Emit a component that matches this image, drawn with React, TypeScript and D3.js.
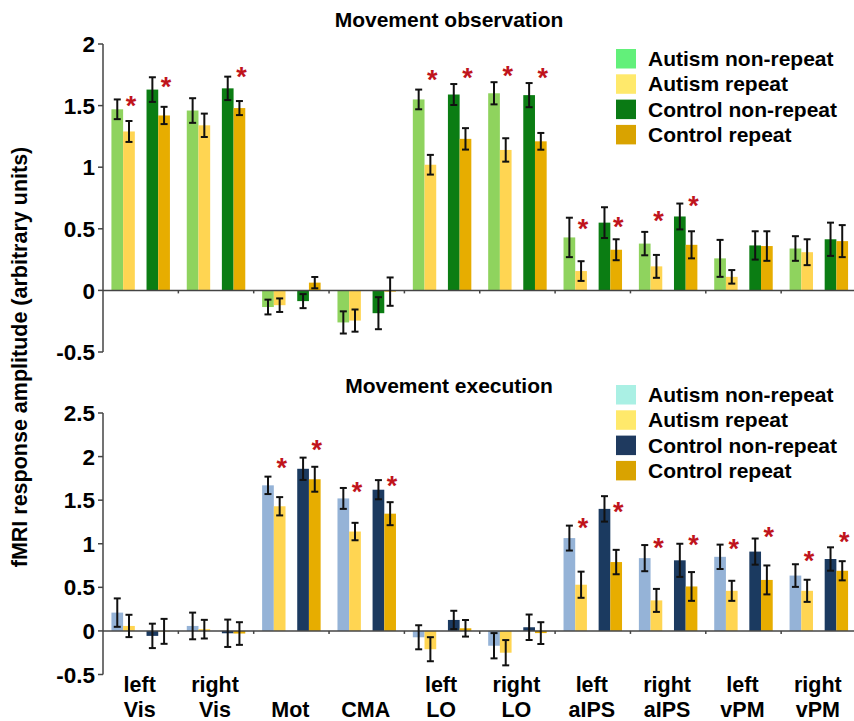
import React from 'react';
import * as d3 from 'd3';

// categories (two-line labels under the lower panel)
const categories = ['left Vis', 'right Vis', 'Mot', 'CMA', 'left LO', 'right LO', 'left aIPS', 'right aIPS', 'left vPM', 'right vPM'];
const labelTop = ['left', 'right', '', '', 'left', 'right', 'left', 'right', 'left', 'right'];
const labelBottom = ['Vis', 'Vis', 'Mot', 'CMA', 'LO', 'LO', 'aIPS', 'aIPS', 'vPM', 'vPM'];

const seriesNames = ['Autism non-repeat', 'Autism repeat', 'Control non-repeat', 'Control repeat'];

// Movement observation
const obsAutNon = [1.47, 1.46, -0.135, -0.26, 1.55, 1.6, 0.43, 0.38, 0.26, 0.34];
const obsAutNonErr = [0.08, 0.1, 0.06, 0.09, 0.08, 0.09, 0.16, 0.095, 0.15, 0.1];
const obsAutRep = [1.29, 1.34, -0.12, -0.245, 1.02, 1.14, 0.157, 0.195, 0.11, 0.31];
const obsAutRepErr = [0.085, 0.095, 0.055, 0.09, 0.08, 0.095, 0.08, 0.093, 0.055, 0.105];
const obsConNon = [1.63, 1.64, -0.087, -0.185, 1.59, 1.585, 0.55, 0.6, 0.365, 0.415];
const obsConNonErr = [0.1, 0.095, 0.057, 0.13, 0.085, 0.098, 0.125, 0.105, 0.115, 0.135];
const obsConRep = [1.42, 1.48, 0.063, -0.01, 1.23, 1.21, 0.33, 0.37, 0.36, 0.4];
const obsConRepErr = [0.07, 0.057, 0.046, 0.115, 0.087, 0.068, 0.085, 0.11, 0.12, 0.13];
const obsStarAut = [1.545, null, null, null, 1.76, 1.79, 0.55, 0.615, null, null];
const obsStarCon = [1.7, 1.78, null, null, 1.77, 1.775, 0.56, 0.737, null, null];

// Movement execution
const exeAutNon = [0.21, 0.057, 1.67, 1.52, -0.073, -0.17, 1.065, 0.835, 0.85, 0.635];
const exeAutNonErr = [0.163, 0.153, 0.1, 0.12, 0.138, 0.145, 0.143, 0.15, 0.14, 0.13];
const exeAutRep = [0.057, 0.02, 1.43, 1.14, -0.21, -0.25, 0.53, 0.35, 0.46, 0.46];
const exeAutRepErr = [0.128, 0.107, 0.105, 0.1, 0.138, 0.145, 0.15, 0.132, 0.115, 0.127];
const exeConNon = [-0.057, -0.027, 1.86, 1.62, 0.126, 0.042, 1.4, 0.81, 0.91, 0.825];
const exeConNonErr = [0.14, 0.157, 0.128, 0.11, 0.105, 0.146, 0.146, 0.19, 0.15, 0.134];
const exeConRep = [-0.005, -0.03, 1.74, 1.345, 0.03, -0.025, 0.79, 0.51, 0.585, 0.69];
const exeConRepErr = [0.143, 0.13, 0.143, 0.132, 0.095, 0.125, 0.14, 0.165, 0.166, 0.11];
const exeStarAut = [null, null, 1.94, 1.66, null, null, 1.25, 1.02, 1.01, 0.87];
const exeStarCon = [null, null, 2.14, 1.73, null, null, 1.43, 1.05, 1.15, 1.09];

const obsTicks = [-0.5, 0, 0.5, 1, 1.5, 2];
const exeTicks = [-0.5, 0, 0.5, 1, 1.5, 2, 2.5];

const FONT = 'Arial, "Liberation Sans", Helvetica, sans-serif';
const slots = ['an', 'ar', 'gap', 'cn', 'cr'];

const x = d3.scaleBand<string>().domain(categories).range([103, 856.5]).padding(0);
const xi = d3.scaleBand<string>().domain(slots).range([0, x.bandwidth()]).paddingInner(0).paddingOuter(0.72);

function Panel({ title, titleY, y, ticks, series, errs, starAut, starCon, colors, legendColors, legendY }) {
  const keys = ['an', 'ar', 'cn', 'cr'];
  const y0 = y(0);
  const [ymin, ymax] = y.range();
  return (
    <g>
      <text x={449} y={titleY} textAnchor="middle" fontFamily={FONT} fontWeight="bold" fontSize={21}>{title}</text>
      {/* bars */}
      {categories.map((c, i) => (
        <g key={c}>
          {keys.map((k, s) => {
            const v = series[s][i];
            const bx = x(c) + xi(k);
            return (
              <rect key={k} x={bx} width={xi.bandwidth()} y={Math.min(y(v), y0)} height={Math.abs(y(v) - y0)} fill={colors[s]} />
            );
          })}
        </g>
      ))}
      {/* axes */}
      <line x1={103} x2={854} y1={y0} y2={y0} stroke="#444" strokeWidth={1.5} />
      {categories.slice(1).map((c) => (
        <line key={c} x1={x(c)} x2={x(c)} y1={y0} y2={y0 + 3} stroke="#444" strokeWidth={1.5} />
      ))}
      <line x1={103} x2={103} y1={ymin} y2={ymax} stroke="#444" strokeWidth={1.5} />
      {ticks.map((t) => (
        <g key={t}>
          <line x1={98} x2={103} y1={y(t)} y2={y(t)} stroke="#444" strokeWidth={1.5} />
          <text x={95} y={y(t)} dy="0.36em" textAnchor="end" fontFamily={FONT} fontWeight="bold" fontSize={22.5}>{String(t)}</text>
        </g>
      ))}
      {/* error bars */}
      {categories.map((c, i) => (
        <g key={c}>
          {keys.map((k, s) => {
            const v = series[s][i];
            const e = errs[s][i];
            const cx = x(c) + xi(k) + xi.bandwidth() / 2;
            return (
              <g key={k} stroke="#111" strokeWidth={2}>
                <line x1={cx} x2={cx} y1={y(v + e)} y2={y(v - e)} />
                <line x1={cx - 3.5} x2={cx + 3.5} y1={y(v + e)} y2={y(v + e)} />
                <line x1={cx - 3.5} x2={cx + 3.5} y1={y(v - e)} y2={y(v - e)} />
              </g>
            );
          })}
        </g>
      ))}
      {/* significance stars */}
      {categories.map((c, i) => (
        <g key={c} fill="#c0141c" fontFamily={FONT} fontWeight="bold" fontSize={27} textAnchor="middle">
          {starAut[i] != null && (
            <text x={x(c) + xi('ar') + xi.bandwidth() / 2 + 2} y={y(starAut[i]) + 15}>*</text>
          )}
          {starCon[i] != null && (
            <text x={x(c) + xi('cr') + xi.bandwidth() / 2 + 2} y={y(starCon[i]) + 15}>*</text>
          )}
        </g>
      ))}
      {/* legend */}
      {seriesNames.map((n, s) => (
        <g key={n} transform={`translate(616,${legendY + s * 25.3})`}>
          <rect x={0} y={0} width={20} height={19.5} fill={legendColors[s]} />
          <text x={32} y={17} fontFamily={FONT} fontWeight="bold" fontSize={21}>{n}</text>
        </g>
      ))}
    </g>
  );
}

export default function App() {
  const yObs = d3.scaleLinear().domain([-0.5, 2]).range([352, 44]);
  const yExe = d3.scaleLinear().domain([-0.5, 2.5]).range([674.5, 413]);
  return (
    <svg width={854} height={721} style={{ position: 'absolute', left: 0, top: 0, background: '#fff' }}>
      <rect width={854} height={721} fill="#fff" />
      <Panel
        title="Movement observation"
        titleY={26.5}
        y={yObs}
        ticks={obsTicks}
        series={[obsAutNon, obsAutRep, obsConNon, obsConRep]}
        errs={[obsAutNonErr, obsAutRepErr, obsConNonErr, obsConRepErr]}
        starAut={obsStarAut}
        starCon={obsStarCon}
        colors={['#8fd35e', '#ffd552', '#0b7d13', '#e7ad00']}
        legendColors={['#62f07a', '#ffe96b', '#0a7a14', '#d9a300']}
        legendY={49}
      />
      <Panel
        title="Movement execution"
        titleY={393}
        y={yExe}
        ticks={exeTicks}
        series={[exeAutNon, exeAutRep, exeConNon, exeConRep]}
        errs={[exeAutNonErr, exeAutRepErr, exeConNonErr, exeConRepErr]}
        starAut={exeStarAut}
        starCon={exeStarCon}
        colors={['#95b3d7', '#ffd552', '#1b3a60', '#e7ad00']}
        legendColors={['#aaf0e4', '#ffe96b', '#1f3a5f', '#d9a300']}
        legendY={385}
      />
      {/* category labels */}
      {categories.map((c, i) => (
        <g key={c} fontFamily={FONT} fontWeight="bold" fontSize={21.5} textAnchor="middle">
          <text x={x(c) + x.bandwidth() / 2 - 1} y={692}>{labelTop[i]}</text>
          <text x={x(c) + x.bandwidth() / 2 - 1} y={717}>{labelBottom[i]}</text>
        </g>
      ))}
      <text transform="translate(27,357) rotate(-90)" textAnchor="middle" fontFamily={FONT} fontWeight="bold" fontSize={21.5}>
        fMRI response amplitude (arbitrary units)
      </text>
    </svg>
  );
}
